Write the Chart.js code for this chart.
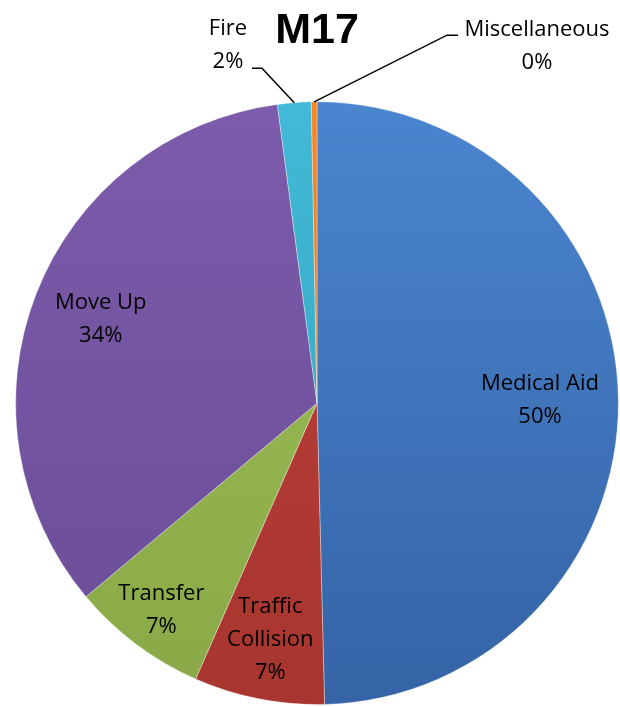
<!DOCTYPE html>
<html lang="en">
<head>
    <meta charset="UTF-8">
    <title>M17</title>
    <script src="https://cdn.jsdelivr.net/npm/chart.js"></script>
    <style>
        html, body { margin: 0; padding: 0; background: #ffffff; }
        #wrap { width: 620px; height: 707px; }
    </style>
</head>
<body>
    <div id="wrap"><canvas id="chartM17"></canvas></div>

<script>
// Data (percent of calls)
const chartTitle = 'M17';
const categories = ['Medical Aid', 'Traffic Collision', 'Transfer', 'Move Up', 'Fire', 'Miscellaneous'];
const shares = [49.6, 7.0, 7.3, 34.0, 1.8, 0.3];

// Slice colours: [light top, dark bottom]
const sliceColors = [
    ['#4a85cf', '#3563a6'],
    ['#bc403b', '#a8352f'],
    ['#9cbf58', '#89a946'],
    ['#7c5cab', '#6a4c96'],
    ['#42b9d6', '#2fa2bd'],
    ['#f5882a', '#e0701a']
];

const LABEL_FONT = '22px "Open Sans", "DejaVu Sans", sans-serif';

// Gradient fill for each slice, top lighter -> bottom darker
function sliceFill(context) {
    const chart = context.chart;
    const area = chart.chartArea;
    const pair = sliceColors[context.dataIndex];
    if (!area) return pair[0];
    const g = chart.ctx.createLinearGradient(0, area.top, 0, area.bottom);
    g.addColorStop(0, pair[0]);
    g.addColorStop(1, pair[1]);
    return g;
}

// Split long label into lines
function wrapText(ctx, text, maxWidth) {
    const words = text.split(' ');
    const lines = [];
    let line = '';
    words.forEach(w => {
        const test = line ? line + ' ' + w : w;
        if (line && ctx.measureText(test).width > maxWidth) {
            lines.push(line);
            line = w;
        } else {
            line = test;
        }
    });
    if (line) lines.push(line);
    return lines;
}

// Radial position of inside labels (fraction of radius)
const insideRadius = [0.74, 0.80, 0.86, 0.77];
// Outside labels: offsets from pie centre for label + elbow of leader line
const outsideLabels = {
    4: { label: [-89, -358], elbow: [-55, -335], end: [-65, -335] },
    5: { label: [220, -357], elbow: [130, -368], end: [141, -368] }
};

const pieLabels = {
    id: 'pieLabels',
    afterDatasetsDraw(chart) {
        const ctx = chart.ctx;
        const meta = chart.getDatasetMeta(0);
        const total = shares.reduce((a, b) => a + b, 0);
        const lineH = 33;

        ctx.save();
        ctx.font = LABEL_FONT;
        ctx.fillStyle = '#000000';
        ctx.textAlign = 'center';
        ctx.textBaseline = 'middle';

        meta.data.forEach((arc, i) => {
            const pct = Math.round(shares[i] / total * 100) + '%';
            const mid = (arc.startAngle + arc.endAngle) / 2;
            const cx = arc.x, cy = arc.y, r = arc.outerRadius;
            let lines, lx, ly;

            if (outsideLabels[i]) {
                const o = outsideLabels[i];
                const ex = cx + r * Math.cos(mid), ey = cy + r * Math.sin(mid);
                ctx.strokeStyle = '#000000';
                ctx.lineWidth = 1.5;
                ctx.beginPath();
                ctx.moveTo(ex, ey);
                ctx.lineTo(cx + o.elbow[0], cy + o.elbow[1]);
                ctx.lineTo(cx + o.end[0], cy + o.end[1]);
                ctx.stroke();
                lines = [categories[i], pct];
                lx = cx + o.label[0];
                ly = cy + o.label[1];
            } else {
                lines = wrapText(ctx, categories[i], 140).concat([pct]);
                lx = cx + r * insideRadius[i] * Math.cos(mid);
                ly = cy + r * insideRadius[i] * Math.sin(mid);
            }

            const top = ly - (lines.length - 1) * lineH / 2;
            lines.forEach((t, k) => ctx.fillText(t, lx, top + k * lineH));
        });
        ctx.restore();
    }
};

const ctxM17 = document.getElementById('chartM17').getContext('2d');
const chartM17 = new Chart(ctxM17, {
    type: 'pie',
    data: {
        labels: categories,
        datasets: [{
            data: shares,
            backgroundColor: sliceFill,
            borderColor: 'rgba(255,255,255,0.35)',
            borderWidth: 1
        }]
    },
    options: {
        responsive: true,
        maintainAspectRatio: false,
        animation: false,
        layout: { padding: { left: 15, right: 1, top: 0, bottom: 2 } },
        plugins: {
            legend: { display: false },
            tooltip: { enabled: false },
            title: {
                display: true,
                text: chartTitle,
                color: '#000000',
                font: { family: '"Liberation Sans", Arial, sans-serif', size: 43, weight: 'bold', lineHeight: 1.1 },
                padding: { top: 7, bottom: 47 }
            }
        }
    },
    plugins: [pieLabels]
});
</script>
</body>
</html>
